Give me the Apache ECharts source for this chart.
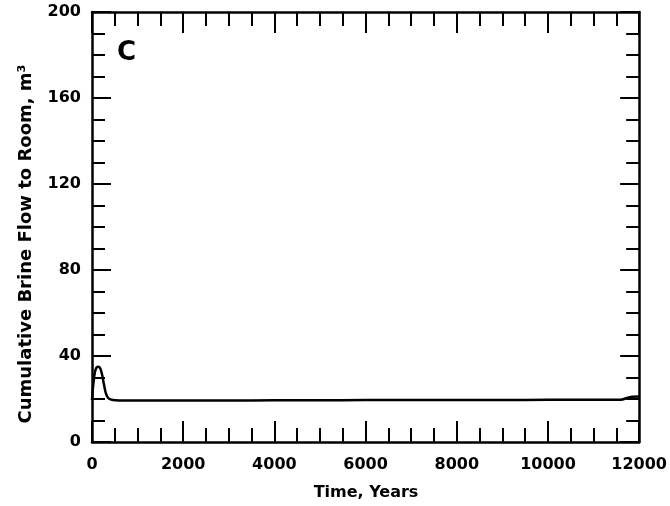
<!DOCTYPE html>
<html>
<head>
<meta charset="utf-8">
<script src="https://cdn.jsdelivr.net/npm/echarts@6/dist/echarts.min.js"></script>
<style>
  html, body { margin: 0; padding: 0; background: #fff; }
  #chart { width: 670px; height: 506px; }
</style>
</head>
<body>
<div id="chart"></div>
<script>
// Time (years) and cumulative brine flow (m^3)
const years = [0, 20, 45, 70, 100, 140, 180, 220, 260, 300, 350, 420, 520, 700, 1000, 2000, 3000, 4000, 5000, 6000, 7000, 8000, 9000, 10000, 11000, 11600, 11750, 11850, 12000];
const flow  = [19.5, 25, 30, 33, 34.6, 35.0, 34.3, 31.5, 27, 23, 20.6, 19.7, 19.4, 19.3, 19.3, 19.3, 19.3, 19.4, 19.4, 19.5, 19.5, 19.5, 19.5, 19.6, 19.6, 19.7, 20.6, 21.1, 21.2];

const xTicks = [0, 2000, 4000, 6000, 8000, 10000, 12000];
const yTicks = [0, 40, 80, 120, 160, 200];

const panelLabel = 'C';
const xTitle = 'Time, Years';
const yTitle = 'Cumulative Brine Flow to Room, m\u00B3';

const FONT = 'DejaVu Sans';
const INK = '#000';

const points = years.map((t, i) => [t, flow[i]]);

function xAxisDef(pos, showLabels) {
  return {
    type: 'value', position: pos,
    min: xTicks[0], max: xTicks[xTicks.length - 1], interval: 2000,
    axisLine: { show: true, onZero: false, lineStyle: { color: INK, width: 2.5 } },
    axisTick: { show: true, inside: true, length: 21, lineStyle: { color: INK, width: 2 } },
    minorTick: { show: true, splitNumber: 4, length: 14, lineStyle: { color: INK, width: 2 } },
    axisLabel: { show: showLabels, inside: false, margin: 15, color: INK, fontFamily: FONT, fontWeight: 'bold', fontSize: 16,
                 formatter: v => String(v) },
    splitLine: { show: false }
  };
}

function yAxisDef(pos, showLabels) {
  return {
    type: 'value', position: pos,
    min: yTicks[0], max: yTicks[yTicks.length - 1], interval: 40,
    axisLine: { show: true, onZero: false, lineStyle: { color: INK, width: 2.5 } },
    axisTick: { show: true, inside: true, length: 19, lineStyle: { color: INK, width: 2 } },
    minorTick: { show: true, splitNumber: 4, length: 13, lineStyle: { color: INK, width: 2 } },
    axisLabel: { show: showLabels, inside: false, margin: 11, color: INK, fontFamily: FONT, fontWeight: 'bold', fontSize: 16,
                 formatter: v => String(v) },
    splitLine: { show: false }
  };
}

const chart = echarts.init(document.getElementById('chart'), null, { renderer: 'canvas' });
chart.setOption({
  animation: false,
  backgroundColor: '#fff',
  grid: { left: 92, right: 29, top: 12, bottom: 64 },
  xAxis: [xAxisDef('bottom', true), xAxisDef('top', false)],
  yAxis: [yAxisDef('left', true), yAxisDef('right', false)],
  graphic: [
    { type: 'text', left: 117, top: 40,
      style: { text: panelLabel, fill: INK, fontFamily: FONT, fontWeight: 'bold', fontSize: 26 } },
    { type: 'text', x: 366, y: 493,
      style: { text: xTitle, fill: INK, fontFamily: FONT, fontWeight: 'bold', fontSize: 16, align: 'center', verticalAlign: 'middle' } },
    { type: 'text', x: 26, y: 244, rotation: Math.PI / 2,
      style: { text: yTitle, fill: INK, fontFamily: FONT, fontWeight: 'bold', fontSize: 18, align: 'center', verticalAlign: 'middle' } }
  ],
  series: [{
    type: 'line',
    xAxisIndex: 0, yAxisIndex: 0,
    data: points,
    smooth: 0.3,
    showSymbol: false,
    lineStyle: { color: INK, width: 2.5 }
  }]
});
</script>
</body>
</html>
